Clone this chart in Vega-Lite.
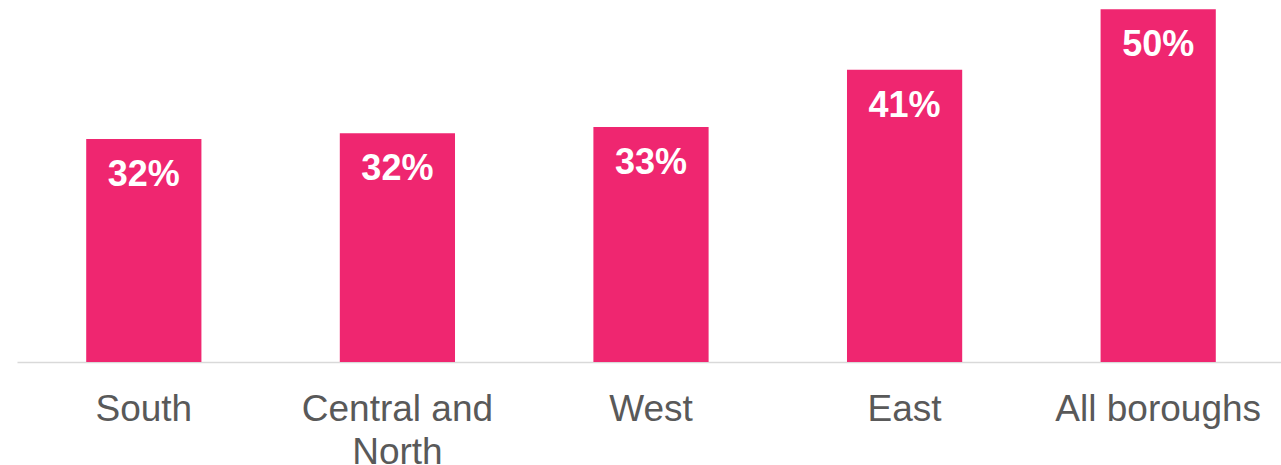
{
  "$schema": "https://vega.github.io/schema/vega-lite/v6.json",
  "autosize": {"type": "none"},
  "padding": {"left": 17, "top": 0, "right": 0, "bottom": 103},
  "width": 1268,
  "height": 362,
  "background": "white",
  "config": {"view": {"stroke": null}, "font": "Liberation Sans"},
  "data": {
    "values": [
      {"region": "South", "share": 0.316},
      {"region": "Central and North", "share": 0.324},
      {"region": "West", "share": 0.333},
      {"region": "East", "share": 0.414},
      {"region": "All boroughs", "share": 0.500}
    ]
  },
  "encoding": {
    "x": {
      "field": "region",
      "type": "nominal",
      "sort": null,
      "scale": {"paddingInner": 0.5457, "paddingOuter": 0.2729},
      "axis": {
        "title": null,
        "labelAngle": 0,
        "ticks": false,
        "tickSize": 0,
        "labelPadding": 58,
        "labelBaseline": "alphabetic",
        "labelFontSize": 37,
        "labelColor": "#595959",
        "labelFont": "Liberation Sans",
        "labelLineHeight": 43,
        "labelLimit": 0,
        "labelExpr": "datum.label == 'Central and North' ? ['Central and', 'North'] : datum.label",
        "domainColor": "#d9d9d9",
        "domainWidth": 1.5,
        "grid": false
      }
    },
    "y": {
      "field": "share",
      "type": "quantitative",
      "scale": {"domain": [0, 0.513], "nice": false},
      "axis": null
    }
  },
  "layer": [
    {"mark": {"type": "bar", "color": "#ef2670"}},
    {
      "mark": {
        "type": "text",
        "color": "white",
        "fontWeight": "bold",
        "fontSize": 36,
        "font": "Liberation Sans",
        "baseline": "alphabetic",
        "dy": 47
      },
      "encoding": {"text": {"field": "share", "type": "quantitative", "format": ".0%"}}
    }
  ]
}
